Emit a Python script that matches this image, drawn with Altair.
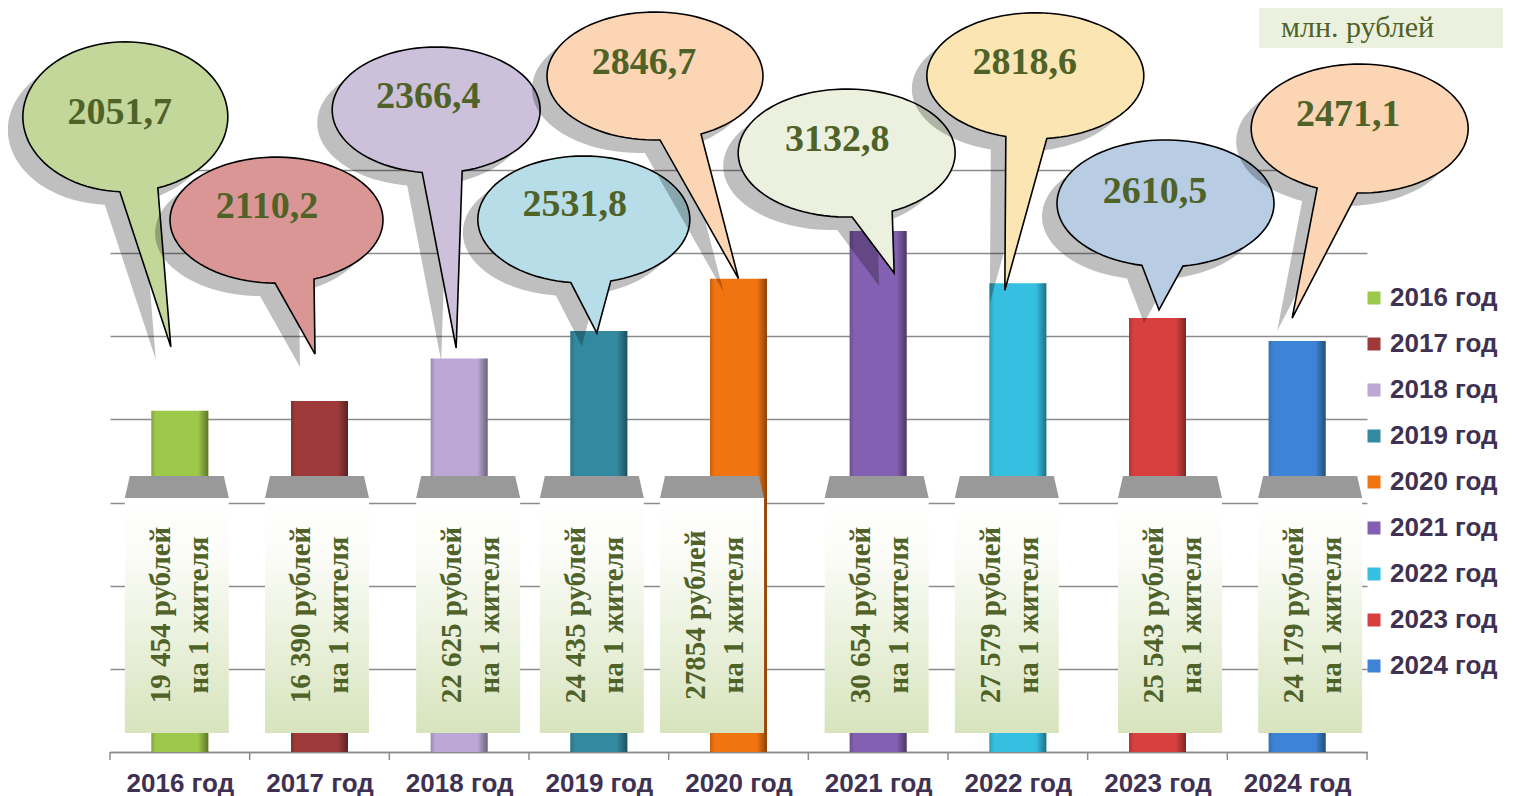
import math
import altair as alt
import pandas as pd

# ---------------- data ----------------
years = ["2016 год", "2017 год", "2018 год", "2019 год", "2020 год",
         "2021 год", "2022 год", "2023 год", "2024 год"]
values = [2051.7, 2110.2, 2366.4, 2531.8, 2846.7, 3132.8, 2818.6, 2610.5, 2471.1]
per_capita = ["19 454", "16 390", "22 625", "24 435", "27854",
              "30 654", "27 579", "25 543", "24 179"]
unit_label = "млн. рублей"
per_capita_suffix = "рублей"
per_capita_line2 = "на 1 жителя"

# ---------------- styles ----------------
bar_colors = ["#9dc94a", "#9e3a3a", "#bba8d6", "#33899f", "#f07410",
              "#8460b2", "#35bfe0", "#d84040", "#3d84d6"]
bubble_colors = ["#c4d79b", "#da9694", "#ccc0da", "#b7dee8", "#fcd5b4",
                 "#ebf1de", "#fbe5b2", "#b8cce4", "#fcd5b4"]
TEXT_GREEN = "#4f6228"
LABEL_DARK = "#3f3151"
GRID = "#8c8c8c"

W, H = 1257, 582
Y_MAX = 3500
STEP = W / len(years)
PPU = H / Y_MAX

# bubble layout, pixels relative to the bar top:
# (ellipse cx, cy, rx, ry, tail base left x, tail base right x, tip x, tip y, text dx, text dy)
bubble_layout = [
    (-54.5, -294, 102.5, 75, -60, -22, -9, -64, -60, -298),
    (-43, -181, 106.5, 63, -44.5, -5.5, -4.5, -47, -52.5, -194),
    (-23, -248.5, 104, 63, -37, 3, -3, -10.5, -31, -261.5),
    (-15, -111.5, 106, 63.5, -28, 12, -2, 2, -24, -126),
    (-83.5, -202.6, 108, 64, -78.5, -37.5, 0, 0, -94.5, -215.6),
    (-31.5, -78, 108.5, 64, -26, 14, 16, 42, -41, -91),
    (17.5, -207.5, 108.5, 63, -12, 29, -13, 7, 7, -220),
    (8, -114.5, 108.5, 63.5, -15.5, 25.5, 1.5, -8, -2.5, -126),
    (62.5, -212.5, 108.5, 64.5, 20, 60, -5, -23, 51, -226),
]
SHADOW_OFF = (-15, 13)
box_shift = [-3, -2.5, 9, -7, -26.5, -1.5, -11, 12.5, 13]
BOX_HALF = 52
BOX_TEXT_SHIFT = -16


def bubble_path(cx, cy, rx, ry, bl, br, tx, ty, ox=0.0, oy=0.0, n=90):
    tl = math.acos(max(-1, min(1, (bl - cx) / rx)))
    tr = math.acos(max(-1, min(1, (br - cx) / rx)))
    a0, a1 = tl, tr + 2 * math.pi
    pts = []
    for k in range(n + 1):
        a = a0 + (a1 - a0) * k / n
        pts.append((cx + rx * math.cos(a) + ox, cy + ry * math.sin(a) + oy))
    pts.append((tx + ox, ty + oy))
    return "M" + "L".join(f"{x:.2f},{y:.2f}" for x, y in pts) + "Z"


idx = list(range(len(years)))
df = pd.DataFrame({"idx": idx, "year": years, "value": values})

xs = alt.Scale(domain=[-0.5, len(years) - 0.5], nice=False, zero=False, padding=0)
ys = alt.Scale(domain=[0, Y_MAX], nice=False, zero=True, padding=0)

label_expr = "[" + ",".join(f"'{y}'" for y in years) + "][datum.value]"

bars = alt.Chart(df).mark_bar(width=57, orient="vertical").encode(
    x=alt.X("idx:Q", scale=xs, axis=alt.Axis(
        values=idx, labelExpr=label_expr, grid=False, ticks=False, domain=True,
        domainColor=GRID, domainWidth=1.5, labelFontSize=26, labelFont="Liberation Sans",
        labelFontWeight="bold", labelColor=LABEL_DARK, labelPadding=18,
        labelOverlap=False, labelFlush=False, title=None)),
    y=alt.Y("value:Q", scale=ys, axis=alt.Axis(
        values=list(range(0, Y_MAX + 1, 500)), labels=False, ticks=False, domain=False,
        grid=True, gridColor=GRID, gridWidth=1.5, title=None)),
    color=alt.Color("year:N", scale=alt.Scale(domain=years, range=bar_colors),
                    legend=alt.Legend(title=None, orient="none", legendX=1251, legendY=115,
                                      symbolType="square", symbolSize=169, symbolStrokeWidth=0,
                                      labelFontSize=26, labelFont="Liberation Sans",
                                      labelFontWeight="bold", labelColor=LABEL_DARK,
                                      rowPadding=20, labelOffset=3, padding=0)),
)

bevel = alt.Chart(df).mark_bar(
    width=57, orient="vertical",
    fill=alt.Gradient(gradient="linear", x1=0, x2=1, y1=0, y2=0, stops=[
        alt.GradientStop(offset=0, color="rgba(0,0,0,0.18)"),
        alt.GradientStop(offset=0.08, color="rgba(0,0,0,0)"),
        alt.GradientStop(offset=0.82, color="rgba(0,0,0,0)"),
        alt.GradientStop(offset=1, color="rgba(0,0,0,0.42)"),
    ])).encode(x=alt.X("idx:Q", scale=xs), y=alt.Y("value:Q", scale=ys))

boundaries = [i - 0.5 for i in range(len(years) + 1)]
ticks = alt.Chart(pd.DataFrame({"b": boundaries})).mark_rule(
    color=GRID, strokeWidth=1.5).encode(
    x=alt.X("b:Q", scale=xs), y=alt.value(H), y2=alt.value(H + 8))

df_box = pd.DataFrame({
    "idx": idx,
    "cx": [i + s / STEP for i, s in zip(idx, box_shift)],
    "x0": [i + (s - BOX_HALF) / STEP for i, s in zip(idx, box_shift)],
    "x1": [i + (s + BOX_HALF) / STEP for i, s in zip(idx, box_shift)],
    "tx": [i + (s + BOX_TEXT_SHIFT) / STEP for i, s in zip(idx, box_shift)],
    "ptxt": [f"{p} {per_capita_suffix}\n{per_capita_line2}" for p in per_capita],
})

boxes = alt.Chart(df_box).mark_rect(
    fill=alt.Gradient(gradient="linear", x1=0, x2=0, y1=0, y2=1, stops=[
        alt.GradientStop(offset=0, color="#ffffff"),
        alt.GradientStop(offset=0.25, color="#fbfcf7"),
        alt.GradientStop(offset=1, color="#d7e4bd"),
    ])).encode(x=alt.X("x0:Q", scale=xs), x2="x1:Q",
               y=alt.value(498 - 170), y2=alt.value(733 - 170))

trap = alt.Chart(df_box).mark_point(
    shape="M-47,-11L47,-11L52,11L-52,11Z", size=4, filled=True,
    color="#999999", opacity=1).encode(x=alt.X("cx:Q", scale=xs), y=alt.value(487 - 170))

box_text = alt.Chart(df_box).mark_text(
    angle=270, font="Liberation Serif", fontWeight="bold", fontSize=29,
    color=TEXT_GREEN, lineBreak="\n", lineHeight=38, align="center", baseline="middle"
).encode(x=alt.X("tx:Q", scale=xs), y=alt.value(615 - 170), text="ptxt:N")

rows = []
keys, paths, fills = [], [], []
for i, (lay, col) in enumerate(zip(bubble_layout, bubble_colors)):
    cx, cy, rx, ry, bl, br, tx, ty, _, _ = lay
    for kind in ("shadow", "bubble"):
        key = f"{kind}{i}"
        if kind == "shadow":
            p = bubble_path(cx, cy, rx, ry, bl, br, tx, ty, *SHADOW_OFF)
            f = "rgba(0,0,0,0.25)"
        else:
            p = bubble_path(cx, cy, rx, ry, bl, br, tx, ty)
            f = col
        keys.append(key)
        paths.append(p)
        fills.append(f)
        rows.append({"idx": i, "value": values[i], "key": key, "kind": kind,
                     "seq": len(rows)})
df_bub = pd.DataFrame(rows)

bubbles = alt.Chart(df_bub).mark_point(size=4, filled=True, opacity=1, stroke="black").encode(
    x=alt.X("idx:Q", scale=xs),
    y=alt.Y("value:Q", scale=ys),
    shape=alt.Shape("key:N", scale=alt.Scale(domain=keys, range=paths), legend=None),
    fill=alt.Fill("key:N", scale=alt.Scale(domain=keys, range=fills), legend=None),
    strokeWidth=alt.StrokeWidth("kind:N", scale=alt.Scale(domain=["shadow", "bubble"],
                                                          range=[0, 1.6]), legend=None),
    order=alt.Order("seq:Q"),
)

df_bt = pd.DataFrame({
    "tx": [i + lay[8] / STEP for i, lay in zip(idx, bubble_layout)],
    "ty": [v - lay[9] / PPU for v, lay in zip(values, bubble_layout)],
    "lbl": [f"{v:.1f}".replace(".", ",") for v in values],
})
bub_text = alt.Chart(df_bt).mark_text(
    font="Liberation Serif", fontWeight="bold", fontSize=38, color=TEXT_GREEN,
    align="center", baseline="middle").encode(
    x=alt.X("tx:Q", scale=xs), y=alt.Y("ty:Q", scale=ys), text="lbl:N")

df_unit = pd.DataFrame({"t": [unit_label]})
unit_box = alt.Chart(df_unit).mark_rect(color="#ebf1de").encode(
    x=alt.value(1259 - 110), x2=alt.value(1503 - 110),
    y=alt.value(-170), y2=alt.value(48 - 170))
unit_text = alt.Chart(df_unit).mark_text(
    align="left", baseline="alphabetic", font="Liberation Serif", fontSize=30,
    color=TEXT_GREEN).encode(x=alt.value(1281 - 110), y=alt.value(37 - 170), text="t:N")

chart = alt.layer(
    bars, bevel, ticks, boxes, trap, box_text, bubbles, bub_text, unit_box, unit_text
).properties(
    width=W, height=H,
    padding={"left": 102, "top": 162, "right": 138, "bottom": 44},
    autosize=alt.AutoSizeParams(type="none"),
).configure_view(stroke=None)

chart.save("out.html", embed_options={"renderer": "svg", "actions": False})
